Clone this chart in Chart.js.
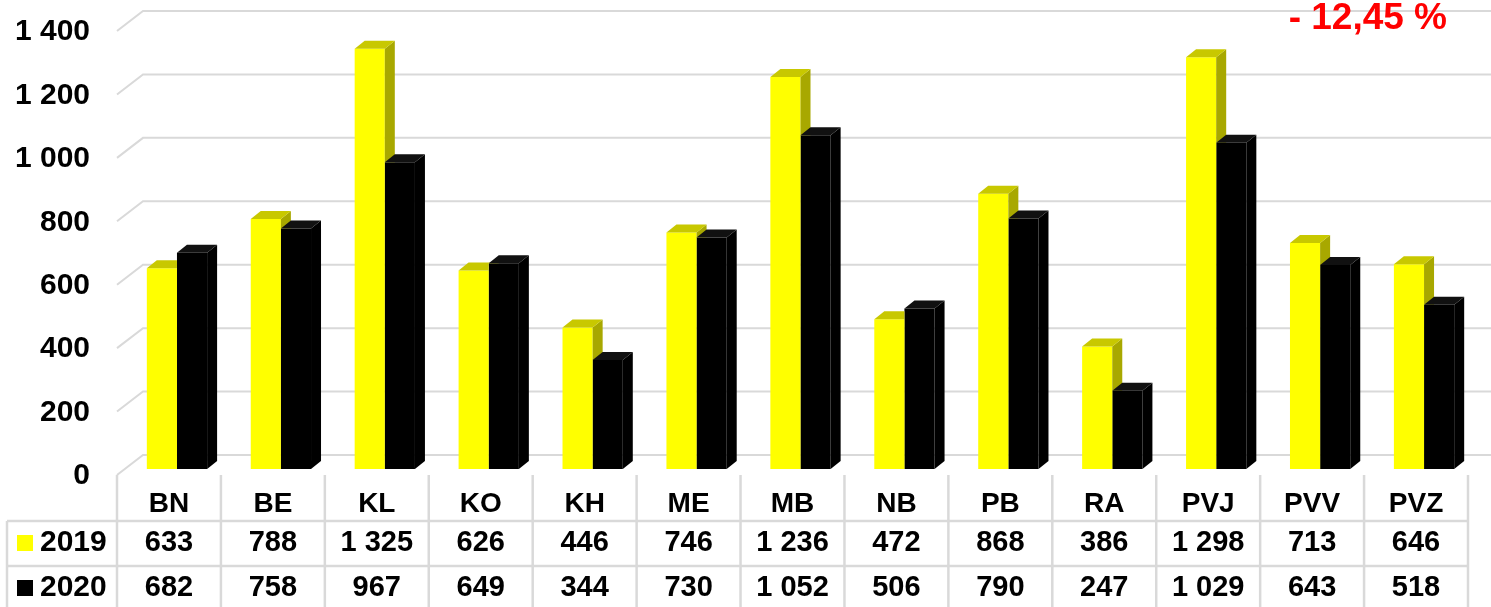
<!DOCTYPE html>
<html>
<head>
<meta charset="utf-8">
<script src="https://cdn.jsdelivr.net/npm/chart.js@4.4.0/dist/chart.umd.min.js"></script>
<style>
  html, body { margin: 0; padding: 0; background: #fff; overflow: hidden; }
  #wrap { width: 1491px; height: 607px; }
</style>
</head>
<body>
<div id="wrap"><canvas id="chart" width="1491" height="607"></canvas></div>
<script>
// data
const categories = ['BN', 'BE', 'KL', 'KO', 'KH', 'ME', 'MB', 'NB', 'PB', 'RA', 'PVJ', 'PVV', 'PVZ'];
const values2019 = [633, 788, 1325, 626, 446, 746, 1236, 472, 868, 386, 1298, 713, 646];
const values2020 = [682, 758, 967, 649, 344, 730, 1052, 506, 790, 247, 1029, 643, 518];
const seriesNames = ['2019', '2020'];
const yTicks = [0, 200, 400, 600, 800, 1000, 1200, 1400];
const changeLabel = '- 12,45 %';

// look
const FONT = '"Liberation Sans", Arial, sans-serif';
const GRID = '#d9d9d9';
const DX = 10, DY = -8;     // bar depth
const FX = -8, FY = 6;      // front edge of the floor / table, relative to bar plane
const BX = 18, BY = -14;    // back wall, relative to bar plane
const faceColors = ['#ffff00', '#000000'];
const sideColors = ['#a8a800', '#000000'];
const topColors = ['#c8c800', '#111111'];

function fmt(v) {
    return String(v).replace(/\B(?=(\d{3})+(?!\d))/g, ' ');
}

function text(ctx, str, x, y, size, align, color) {
    ctx.font = 'bold ' + size + 'px ' + FONT;
    ctx.fillStyle = color || '#000';
    ctx.textAlign = align;
    ctx.textBaseline = 'middle';
    ctx.fillText(str, x, y);
}

// side and top faces of one bar
function drawDepth(ctx, p, k) {
    const l = p.x - p.width / 2, r = p.x + p.width / 2;
    ctx.fillStyle = sideColors[k];
    ctx.beginPath();
    ctx.moveTo(r, p.y);
    ctx.lineTo(r + DX, p.y + DY);
    ctx.lineTo(r + DX, p.base + DY);
    ctx.lineTo(r, p.base);
    ctx.closePath();
    ctx.fill();
    ctx.fillStyle = topColors[k];
    ctx.beginPath();
    ctx.moveTo(l, p.y);
    ctx.lineTo(l + DX, p.y + DY);
    ctx.lineTo(r + DX, p.y + DY);
    ctx.lineTo(r, p.y);
    ctx.closePath();
    ctx.fill();
}

const depthPlugin = {
    id: 'depth',
    beforeDatasetsDraw(chart) {
        const { ctx, chartArea: a, scales: { y } } = chart;
        ctx.save();
        ctx.strokeStyle = GRID;
        ctx.lineWidth = 2;
        yTicks.forEach(v => {
            const py = y.getPixelForValue(v);
            ctx.beginPath();
            ctx.moveTo(a.left + FX, py + FY);
            ctx.lineTo(a.left + BX, py + BY);
            ctx.lineTo(a.right + BX, py + BY);
            ctx.stroke();
        });
        ctx.restore();
    },
    afterDatasetsDraw(chart) {
        const ctx = chart.ctx;
        const front = chart.getDatasetMeta(0).data;
        const back = chart.getDatasetMeta(1).data;
        front.forEach((bar, i) => {
            const p = bar.getProps(['x', 'y', 'base', 'width'], true);
            const q = back[i].getProps(['x', 'y', 'base', 'width'], true);
            // the 2020 bar hides whatever of the 2019 faces falls behind it
            ctx.save();
            ctx.beginPath();
            ctx.rect(0, 0, chart.width, chart.height);
            ctx.rect(q.x - q.width / 2, q.y, q.width, q.base - q.y);
            ctx.clip('evenodd');
            drawDepth(ctx, p, 0);
            ctx.restore();
            ctx.save();
            drawDepth(ctx, q, 1);
            ctx.restore();
        });
    },
    afterDraw(chart) {
        const { ctx, scales: { x, y } } = chart;
        ctx.save();

        // y labels
        yTicks.forEach(v => {
            text(ctx, fmt(v), 90, y.getPixelForValue(v) + FY + 1, 30, 'right');
        });

        // data table
        const colW = (x.right - x.left) / categories.length;
        const top = y.getPixelForValue(0) + FY;
        const row1 = 521, row2 = 566, bottom = 612;
        const tableLeft = 7, tableRight = x.right + FX;
        ctx.strokeStyle = GRID;
        ctx.lineWidth = 2.5;
        ctx.beginPath();
        for (let i = 0; i <= categories.length; i++) {
            const lx = x.left + FX + i * colW;
            ctx.moveTo(lx, top);
            ctx.lineTo(lx, bottom);
        }
        ctx.moveTo(tableLeft, row1);
        ctx.lineTo(tableLeft, bottom);
        ctx.moveTo(tableLeft, row1);
        ctx.lineTo(tableRight, row1);
        ctx.moveTo(tableLeft, row2);
        ctx.lineTo(tableRight, row2);
        ctx.stroke();

        categories.forEach((c, i) => {
            const cx = x.getPixelForValue(i) + FX;
            text(ctx, c, cx, 504, 28, 'center');
            text(ctx, fmt(values2019[i]), cx, 543, 29, 'center');
            text(ctx, fmt(values2020[i]), cx, 588, 29, 'center');
        });

        // legend keys in the table
        [543, 588].forEach((ry, k) => {
            ctx.fillStyle = faceColors[k];
            ctx.fillRect(17, ry - 8, 16, 16);
            text(ctx, seriesNames[k], 40, ry, 30, 'left');
        });

        // change note
        text(ctx, changeLabel, 1447, 19, 37, 'right', '#ff0000');
        ctx.restore();
    }
};

new Chart(document.getElementById('chart').getContext('2d'), {
    type: 'bar',
    data: {
        labels: categories,
        datasets: [
            { label: seriesNames[0], data: values2019, backgroundColor: faceColors[0],
              categoryPercentage: 0.58, barPercentage: 1 },
            { label: seriesNames[1], data: values2020, backgroundColor: faceColors[1],
              categoryPercentage: 0.58, barPercentage: 1 }
        ]
    },
    options: {
        responsive: false,
        animation: false,
        devicePixelRatio: 1,
        layout: { padding: { left: 125, right: 15, top: 25, bottom: 138 } },
        plugins: { legend: { display: false }, tooltip: { enabled: false } },
        scales: {
            x: { display: false },
            y: { display: false, min: 0, max: 1400, ticks: { stepSize: 200 } }
        }
    },
    plugins: [depthPlugin]
});
</script>
</body>
</html>
